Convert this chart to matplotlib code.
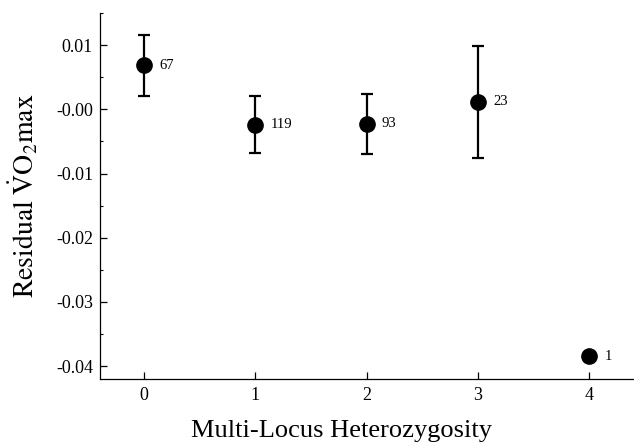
import matplotlib
matplotlib.use("Agg")
import matplotlib.pyplot as plt
from matplotlib.ticker import MultipleLocator

plt.rcParams['font.family'] = ['Liberation Serif', 'DejaVu Serif']
plt.rcParams['mathtext.fontset'] = 'stix'

heterozygosity = [0, 1, 2, 3, 4]
residual_mean = [0.00684, -0.00237, -0.00226, 0.00116, -0.03844]
residual_err = [0.00480, 0.00449, 0.00472, 0.00868, 0.0]
sample_sizes = ["67", "119", "93", "23", "1"]
ytick_values = [0.01, 0.0, -0.01, -0.02, -0.03, -0.04]
ytick_labels = ["0.01", "-0.00", "-0.01", "-0.02", "-0.03", "-0.04"]
xtick_labels = ["0", "1", "2", "3", "4"]

fig = plt.figure(figsize=(6.34, 4.45), dpi=100)
ax = fig.add_axes([100/634, (445-379)/445, 1 - 100/634, (379-13)/445])

for xi, yi, ei in zip(heterozygosity, residual_mean, residual_err):
    if ei > 0:
        ax.errorbar(xi, yi, yerr=ei, fmt='o', color='black', ms=11,
                    elinewidth=1.6, capsize=4.5, capthick=1.6)
    else:
        ax.plot(xi, yi, 'o', color='black', ms=11)

for xi, yi, lab in zip(heterozygosity, residual_mean, sample_sizes):
    ax.annotate(lab, (xi, yi), xytext=(11, 0), textcoords='offset points',
                ha='left', va='center', fontsize=10.5)

ax.set_xlim(-0.395, 4.40)
ax.set_ylim(-0.0420, 0.0150)
ax.set_xticks(heterozygosity)
ax.set_xticklabels(xtick_labels)
ax.set_yticks(ytick_values)
ax.set_yticklabels(ytick_labels)
ax.yaxis.set_minor_locator(MultipleLocator(0.005))

for s in ['top', 'right']:
    ax.spines[s].set_visible(False)
for s in ['left', 'bottom']:
    ax.spines[s].set_linewidth(0.9)

ax.tick_params(axis='both', which='major', direction='in', length=5, width=0.9,
               labelsize=13)
ax.tick_params(axis='y', which='major', pad=5)
ax.tick_params(axis='x', which='major', pad=6)
ax.tick_params(axis='y', which='minor', direction='in', length=2.5, width=0.8)

ax.set_xlabel("Multi-Locus Heterozygosity", fontsize=19)
ax.xaxis.set_label_coords((341.5 - 100) / 534, -(437.5 - 379) / 366, transform=ax.transAxes)
ax.xaxis.label.set_va('baseline')
ax.set_ylabel(r"$\mathrm{Residual\ \dot{V}O_2max}$", fontsize=20)
ax.yaxis.set_label_coords(-(100 - 23) / 534, 0.5, transform=ax.transAxes)
ax.yaxis.label.set_va('center')

fig.savefig("out.png", dpi=100)
